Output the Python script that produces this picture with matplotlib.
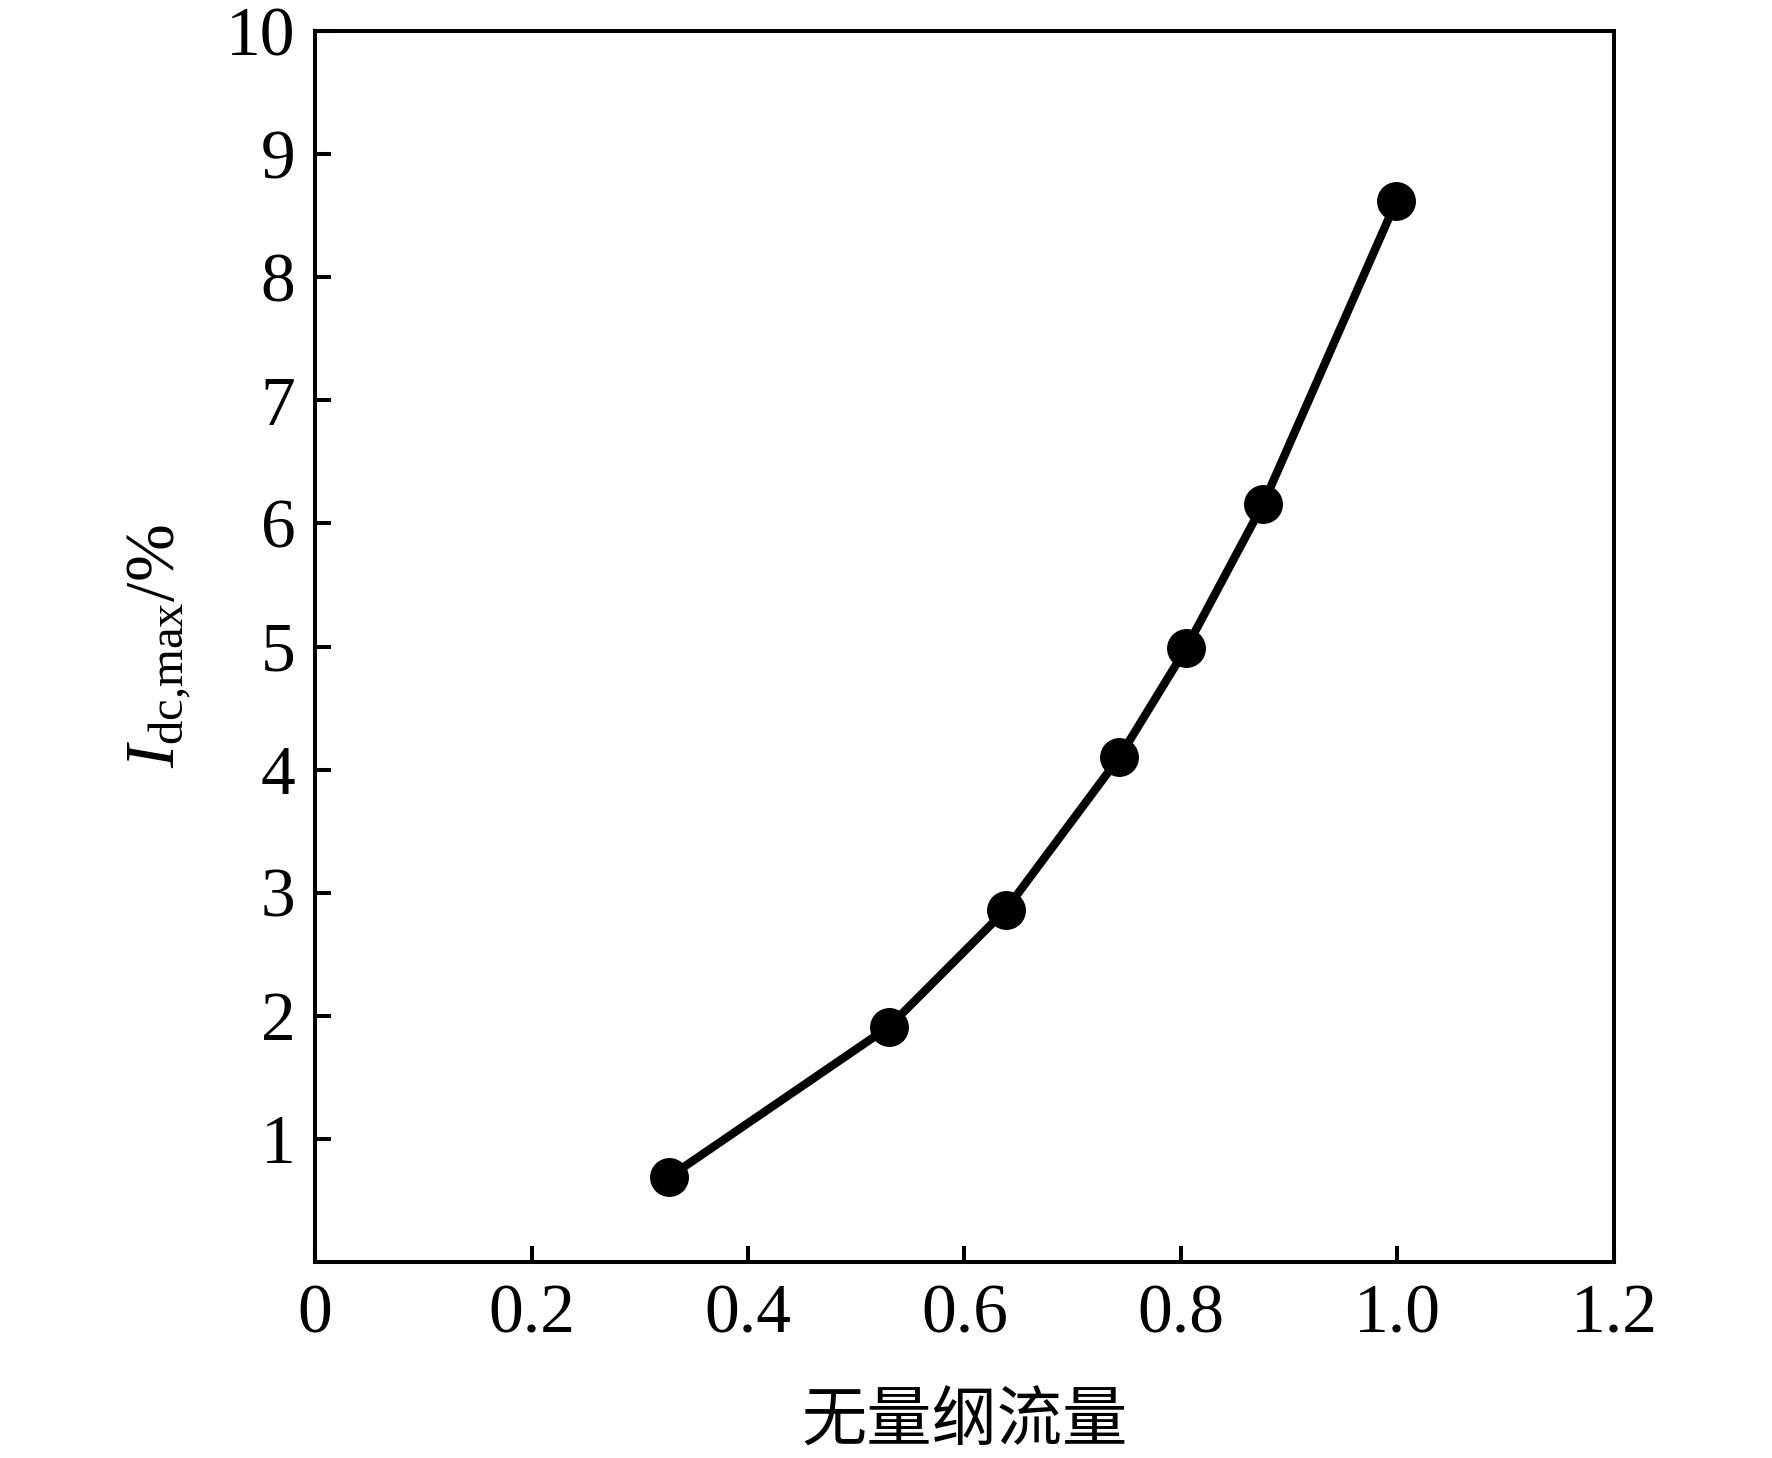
import matplotlib
matplotlib.use("Agg")
import matplotlib.pyplot as plt

# Data
flow = [0.327, 0.530, 0.638, 0.743, 0.805, 0.876, 0.999]
idc_max = [0.69, 1.91, 2.86, 4.10, 4.99, 6.16, 8.62]
xticks = [0, 0.2, 0.4, 0.6, 0.8, 1.0, 1.2]
xticklabels = ["0", "0.2", "0.4", "0.6", "0.8", "1.0", "1.2"]
yticks = [1, 2, 3, 4, 5, 6, 7, 8, 9, 10]
yticklabels = [str(v) for v in yticks]
xlabel = "无量纲流量"
ylabel = r"$I_{\mathrm{dc{,}max}}$/%"

plt.rcParams["font.family"] = ["Liberation Serif", "Noto Sans CJK SC"]
plt.rcParams["mathtext.fontset"] = "custom"
plt.rcParams["mathtext.rm"] = "Liberation Serif"
plt.rcParams["mathtext.it"] = "Liberation Serif:italic"

fig = plt.figure(figsize=(17.72, 14.58), dpi=100)
ax = fig.add_axes([0.1778, 0.1344, 0.9108 - 0.1778, 0.9787 - 0.1344])

ax.plot(flow, idc_max, color="black", linewidth=6, marker="o",
        markersize=27, markerfacecolor="black", markeredgecolor="black",
        solid_joinstyle="round", solid_capstyle="round")

ax.set_xlim(0, 1.2)
ax.set_ylim(0, 10)
ax.set_xticks(xticks)
ax.set_xticklabels(xticklabels)
ax.set_yticks(yticks)
ax.set_yticklabels(yticklabels)

for s in ax.spines.values():
    s.set_linewidth(2.9)
    s.set_color("black")

ax.tick_params(axis="both", direction="in", length=11.5, width=2.9,
               labelsize=50, top=False, right=False, colors="black")
ax.tick_params(axis="x", pad=16)
ax.tick_params(axis="y", pad=14)

ax.set_xlabel(xlabel, fontsize=47, family=["Noto Sans CJK SC", "DejaVu Sans"],
              labelpad=30)
ax.set_ylabel(ylabel, fontsize=50, labelpad=24)

fig.savefig("out.png", dpi=100, facecolor="white")
